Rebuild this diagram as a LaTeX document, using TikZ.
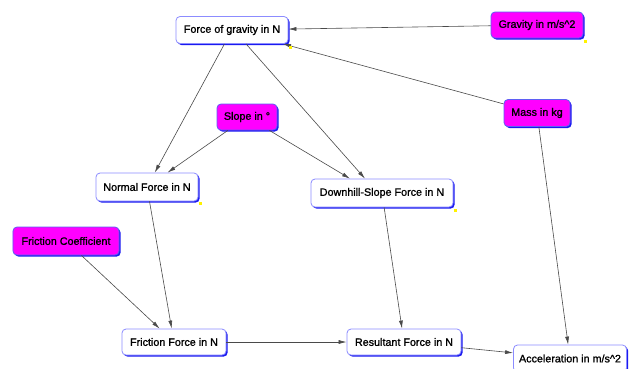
\documentclass[tikz,border=0pt]{standalone}
\usepackage{fontspec}
\setmainfont{Liberation Sans}[FakeBold=1.2]
\usetikzlibrary{arrows.meta,shadows}
\definecolor{edgeblue}{HTML}{8C8CFF}
\definecolor{shadowblue}{HTML}{1A1AF0}
\definecolor{magentabox}{HTML}{FF00FF}
\definecolor{linegray}{HTML}{4A4A4A}
\tikzset{
  basebox/.style={rounded corners=4bp, draw=edgeblue, line width=0.8bp,
    inner sep=0pt, align=center, text=black,
    font=\fontsize{10.8}{13}\selectfont,
    drop shadow={shadow xshift=1.6bp, shadow yshift=-1.6bp, fill=shadowblue, opacity=1}},
  calcbox/.style={basebox, fill=white},
  inputbox/.style={basebox, fill=magentabox, draw=shadowblue!70},
  link/.style={draw=linegray, line width=0.6bp, -{Latex[length=8bp,width=4bp]}},
  yelldot/.style={fill=yellow, draw=none}
}
\begin{document}
\begin{tikzpicture}[x=1bp,y=-1bp]
\useasboundingbox (0,0) rectangle (632,368);
\fill[white] (0,0) rectangle (632,368);

\node[calcbox, minimum width=112bp, minimum height=27bp] (fog) at (232,30) {Force of gravity in N};
\node[inputbox, minimum width=92bp, minimum height=26bp] (grav) at (537,25) {Gravity in m/s\^{}2};
\node[inputbox, minimum width=66bp, minimum height=27bp] (mass) at (537,113) {Mass in kg};
\node[inputbox, minimum width=60bp, minimum height=26bp] (slope) at (247,117) {Slope in °};
\node[calcbox, minimum width=102bp, minimum height=28bp] (normal) at (147,187) {Normal Force in N};
\node[calcbox, minimum width=142bp, minimum height=28bp] (down) at (382,193) {Downhill-Slope Force in N};
\node[inputbox, minimum width=106bp, minimum height=28bp] (fc) at (66,241) {Friction Coefficient};
\node[calcbox, minimum width=104bp, minimum height=26bp] (ff) at (174,342) {Friction Force in N};
\node[calcbox, minimum width=114bp, minimum height=26bp] (res) at (404,342) {Resultant Force in N};
\node[calcbox, minimum width=113bp, minimum height=27bp] (acc) at (570,358.5) {Acceleration in m/s\^{}2};

\draw[link] (grav) -- (fog);
\draw[link] (mass) -- (fog);
\draw[link] (fog) -- (normal);
\draw[link] ([xshift=14bp]fog.south) -- ([xshift=-17bp]down.north);
\draw[link] (slope) -- (normal);
\draw[link] (slope) -- ([xshift=-32bp]down.north);
\draw[link] (normal) -- (ff);
\draw[link] (fc) -- (ff);
\draw[link] (down) -- (res);
\draw[link] (ff) -- (res);
\draw[link] (res) -- (acc);
\draw[link] (mass) -- (acc);

\fill[yelldot] (289,46) rectangle (291.5,48.5);
\fill[yelldot] (584,40) rectangle (586.5,42.5);
\fill[yelldot] (199,202) rectangle (201.5,204.5);
\fill[yelldot] (454,209) rectangle (456.5,211.5);
\end{tikzpicture}
\end{document}
